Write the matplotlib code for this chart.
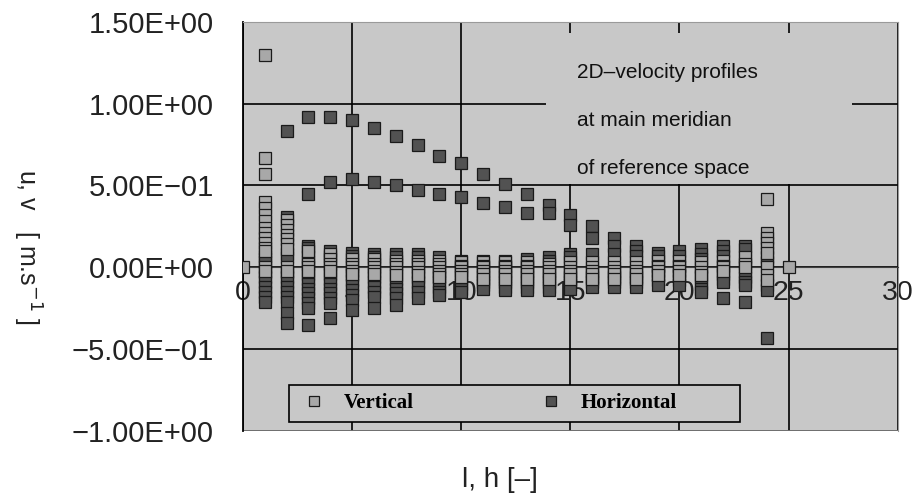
import matplotlib
matplotlib.use("Agg")
import matplotlib.pyplot as plt
from matplotlib.patches import Rectangle
from matplotlib.ticker import FuncFormatter

# position along the meridian (l, h) and velocity samples at each position
positions = list(range(26))

vertical = [
    [0.0],
    [1.30, 0.67, 0.57, 0.40, 0.36, 0.32, 0.28, 0.24, 0.21, 0.18, 0.15, 0.12, 0.10, 0.0, -0.02],
    [0.29, 0.26, 0.23, 0.20, 0.17, 0.14, 0.11, 0.0, -0.02],
    [0.10, 0.02, 0.0, -0.02],
    [0.08, 0.05, 0.02, 0.0, -0.02],
    [0.05, 0.02, 0.0, -0.02, -0.04],
    [0.05, 0.02, 0.0, -0.02, -0.04],
    [0.04, 0.02, 0.0, -0.03, -0.05],
    [0.04, 0.02, 0.0, -0.03, -0.05],
    [0.04, 0.02, 0.0, -0.02, -0.04, -0.06],
    [0.03, 0.01, 0.0, -0.02, -0.04, -0.06],
    [0.03, 0.01, 0.0, -0.02, -0.04, -0.07],
    [0.03, 0.01, 0.0, -0.02, -0.04, -0.07],
    [0.03, 0.01, 0.0, -0.02, -0.04, -0.07],
    [0.02, 0.0, -0.02, -0.04, -0.07],
    [0.03, 0.0, -0.02, -0.04, -0.07],
    [0.03, 0.0, -0.02, -0.04, -0.07],
    [0.03, 0.0, -0.02, -0.04, -0.07],
    [0.03, 0.0, -0.02, -0.04, -0.07],
    [0.04, 0.01, 0.0, -0.02, -0.05],
    [0.04, 0.01, 0.0, -0.02, -0.05],
    [0.03, 0.0, -0.03, -0.05],
    [0.04, 0.01, 0.0, -0.02],
    [0.06, 0.02, 0.0],
    [0.42, 0.21, 0.18, 0.15, 0.12, 0.09, 0.0, -0.05, -0.08],
    [0.0],
]

horizontal = [
    [],
    [0.07, 0.05, 0.03, -0.03, -0.06, -0.09, -0.12, -0.15, -0.18, -0.21],
    [0.83, 0.31, 0.08, 0.06, -0.03, -0.06, -0.09, -0.12, -0.15, -0.18, -0.21, -0.28, -0.34],
    [0.92, 0.45, 0.13, 0.12, 0.06, 0.04, -0.04, -0.07, -0.10, -0.13, -0.16, -0.19, -0.22, -0.25, -0.35],
    [0.92, 0.52, 0.10, 0.07, -0.04, -0.07, -0.10, -0.13, -0.16, -0.19, -0.22, -0.31],
    [0.90, 0.54, 0.09, 0.07, -0.05, -0.08, -0.11, -0.14, -0.17, -0.20, -0.26],
    [0.85, 0.52, 0.08, 0.06, -0.06, -0.09, -0.12, -0.15, -0.18, -0.25],
    [0.80, 0.50, 0.08, 0.06, -0.07, -0.10, -0.13, -0.16, -0.19, -0.23],
    [0.75, 0.47, 0.08, 0.06, -0.06, -0.09, -0.12, -0.15, -0.19],
    [0.68, 0.45, 0.06, -0.06, -0.09, -0.12, -0.15, -0.17],
    [0.64, 0.43, 0.04, -0.07, -0.10, -0.13, -0.15],
    [0.57, 0.39, 0.04, -0.06, -0.09, -0.11, -0.13],
    [0.51, 0.37, 0.04, -0.06, -0.09, -0.12, -0.14],
    [0.45, 0.33, 0.05, -0.06, -0.09, -0.12, -0.14],
    [0.38, 0.33, 0.06, 0.04, -0.06, -0.09, -0.12, -0.14],
    [0.32, 0.26, 0.08, 0.06, -0.06, -0.09, -0.11, -0.13],
    [0.25, 0.18, 0.08, -0.06, -0.09, -0.12],
    [0.18, 0.13, 0.08, -0.06, -0.09, -0.12],
    [0.13, 0.10, 0.07, -0.06, -0.09, -0.12],
    [0.09, 0.07, -0.05, -0.08, -0.11],
    [0.10, 0.07, -0.05, -0.08, -0.11],
    [0.11, 0.08, 0.05, -0.06, -0.10, -0.13, -0.15],
    [0.13, 0.10, 0.07, -0.04, -0.07, -0.09, -0.19],
    [0.13, 0.11, 0.04, -0.03, -0.06, -0.09, -0.11, -0.21],
    [0.06, 0.03, -0.11, -0.14, -0.43],
    [],
]

note_lines = ["2D\u2013velocity profiles", "at main meridian", "of reference space"]


def flatten(cols):
    xs, ys = [], []
    for x, vals in zip(positions, cols):
        xs += [x] * len(vals)
        ys += vals
    return xs, ys


plt.rcParams["font.family"] = ["Liberation Sans", "DejaVu Sans"]
bg = "#c8c8c8"

fig = plt.figure(figsize=(9.17, 4.97), dpi=100)
ax = fig.add_axes([0.265, 0.133, 0.714, 0.823])
ax.set_facecolor(bg)

hx, hy = flatten(horizontal)
vx, vy = flatten(vertical)
ax.plot(hx, hy, ls="none", marker="s", ms=8.8, mfc="#525252", mec="#1a1a1a",
        mew=0.9, label="Horizontal", zorder=4)
ax.plot(vx, vy, ls="none", marker="s", ms=8.8, mfc="#a8a8a8", mec="#1a1a1a",
        mew=0.9, label="Vertical", zorder=5)

ax.set_xlim(0, 30)
ax.set_ylim(-1.0, 1.5)
ax.set_xticks(range(0, 31, 5))
ax.set_yticks([-1.0, -0.5, 0.0, 0.5, 1.0, 1.5])
ax.yaxis.set_major_formatter(FuncFormatter(lambda v, p: f"{v:.2E}".replace("-", "\u2212")))

# x axis crosses at zero like in the spreadsheet chart
ax.spines["bottom"].set_position(("data", 0))
ax.spines["bottom"].set_color("#404040")
ax.spines["bottom"].set_zorder(3)
ax.spines["left"].set_color("black")
ax.spines["left"].set_linewidth(1.3)
for s in ["top", "right"]:
    ax.spines[s].set_color("#9a9a9a")
ax.tick_params(axis="x", length=0, pad=9, labelsize=20.5, labelcolor="#222222")
ax.tick_params(axis="y", length=0, pad=21, labelsize=21, labelcolor="#222222")

ax.set_axisbelow(True)
ax.grid(True, color="black", lw=1.2)
ax.axhline(-1.0, color="#808080", lw=1.2, zorder=1)

# note box hides the grid behind it
ax.add_patch(Rectangle((13.9, 0.51), 14.0, 0.92, facecolor=bg, edgecolor="none", zorder=2))
for i, t in enumerate(note_lines):
    ax.text(15.3, 1.19 - i * 0.293, t, fontsize=15, color="#111111",
            va="center", ha="left", zorder=3)

ax.set_ylabel("u, v   [ m.s$^{-1}$ ]", fontsize=18, color="#222222", rotation=270,
              va="center")
ax.yaxis.set_label_coords(-0.33, 0.45)
fig.text(500 / 917, 0.035, "l, h [\u2013]", fontsize=20, color="#222222", ha="center", va="center")

# legend: entries without frame, the frame drawn as its own box
ax.add_patch(Rectangle((0.070, 0.022), 0.689, 0.090, transform=ax.transAxes,
                       facecolor=bg, edgecolor="black", lw=1.2, zorder=6))
handles, labels = ax.get_legend_handles_labels()
leg = ax.legend(handles[::-1], labels[::-1], ncol=2, loc="center left",
                bbox_to_anchor=((304 - 243) / 655, 0.068), frameon=False,
                markerscale=0.75, handlelength=1.0, handletextpad=0.9,
                columnspacing=6.1, borderpad=0, borderaxespad=0,
                prop={"family": "Liberation Serif", "weight": "bold", "size": 15})
leg.set_zorder(7)

fig.savefig("out.png", dpi=100)
